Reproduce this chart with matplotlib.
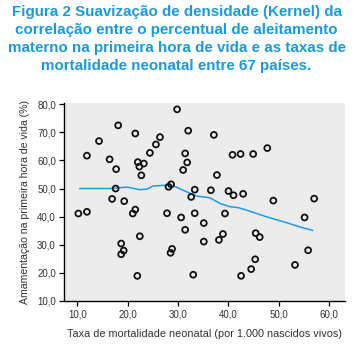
import matplotlib.pyplot as plt
import numpy as np

# neonatal mortality rate (per 1,000 live births), one value per country
mortality = [29.8, 18.1, 21.5, 32.0, 14.3, 26.4, 25.6, 24.4, 31.4, 11.9,
             16.4, 22.0, 23.2, 22.3, 31.8, 17.7, 31.0, 22.7, 17.6, 28.1,
             28.6, 33.3, 32.6, 16.9, 19.3, 21.5, 11.9, 37.1, 40.8, 42.4,
             44.9, 47.7, 37.7, 36.5, 40.0, 41.0, 42.9, 48.9, 57.0, 10.2,
             21.0, 27.8, 30.6, 33.3, 35.1, 31.4, 22.4, 18.7, 19.2, 18.7,
             28.8, 28.5, 35.1, 21.9, 33.0, 39.3, 55.1, 38.9, 38.1, 45.4,
             46.2, 55.8, 45.3, 44.5, 53.2, 42.5]
# breastfeeding in the first hour of life (%)
breastfeeding = [78.2, 72.5, 69.6, 70.6, 66.9, 68.3, 65.7, 62.7, 62.5, 61.7,
                 60.4, 59.4, 58.9, 57.8, 59.3, 56.9, 56.6, 54.7, 50.0, 50.6,
                 51.5, 49.6, 47.0, 46.3, 45.5, 42.5, 41.7, 69.1, 62.0, 62.3,
                 62.3, 64.4, 54.8, 49.4, 49.1, 47.6, 48.1, 45.7, 46.4, 41.1,
                 41.1, 41.2, 39.7, 41.2, 37.7, 35.3, 33.0, 30.4, 27.9, 26.6,
                 28.5, 27.1, 31.1, 18.9, 19.3, 41.1, 39.7, 33.8, 31.7, 34.1,
                 32.7, 28.0, 24.8, 21.3, 22.8, 18.9]

# kernel smoothing curve
kernel_x = [10.5, 16.5, 19.8, 22.4, 23.9, 25.0, 27.7, 29.1, 31.7, 33.7,
            36.3, 38.3, 40.3, 41.9, 43.6, 47.6, 51.6, 54.2, 56.7]
kernel_y = [50.0, 50.0, 50.5, 49.6, 49.8, 50.9, 51.2, 50.9, 48.8, 47.3,
            46.7, 44.7, 43.5, 43.2, 42.3, 39.9, 37.8, 36.3, 35.1]

x_ticks = [10, 20, 30, 40, 50, 60]
y_ticks = [10, 20, 30, 40, 50, 60, 70, 80]

title = ("Figura 2 Suavização de densidade (Kernel) da\n"
         "correlação entre o percentual de aleitamento\n"
         "materno na primeira hora de vida e as taxas de\n"
         "mortalidade neonatal entre 67 países.")

plt.rcParams['font.family'] = ['Liberation Sans', 'DejaVu Sans']

fig = plt.figure(figsize=(3.53, 3.49), dpi=100)
ax = fig.add_axes([0.182, 0.138, 0.795, 0.568])
ax.set_facecolor('#ececec')

ax.scatter(mortality, breastfeeding, s=18, facecolors='none',
           edgecolors='#111111', linewidths=1.3, zorder=3)
ax.plot(kernel_x, kernel_y, color='#1f9be3', lw=1.1, zorder=2)

ax.set_xlim(7.4, 63.1)
ax.set_ylim(10, 80.6)
ax.set_xticks(x_ticks)
ax.set_yticks(y_ticks)
ax.set_xticklabels([f'{v:.1f}'.replace('.', ',') for v in x_ticks])
ax.set_yticklabels([f'{v:.1f}'.replace('.', ',') for v in y_ticks])
ax.tick_params(labelsize=7, labelcolor='#333333', length=3.5, width=0.9,
               direction='out', pad=2.5)

for side in ['top', 'right']:
    ax.spines[side].set_visible(False)
for side in ['left', 'bottom']:
    ax.spines[side].set_linewidth(1.0)

ax.set_xlabel('Taxa de mortalidade neonatal (por 1.000 nascidos vivos)',
              fontsize=7.8, color='#333333', labelpad=7)
ax.set_ylabel('Amamentação na primeira hora de vida (%)',
              fontsize=7.6, color='#333333', labelpad=5)

fig.text(0.5, 0.985, title, ha='center', va='top', fontsize=10.9,
         fontweight='bold', color='#1a9ad8', linespacing=1.36)

plt.savefig('out.png', dpi=100)
plt.close()
